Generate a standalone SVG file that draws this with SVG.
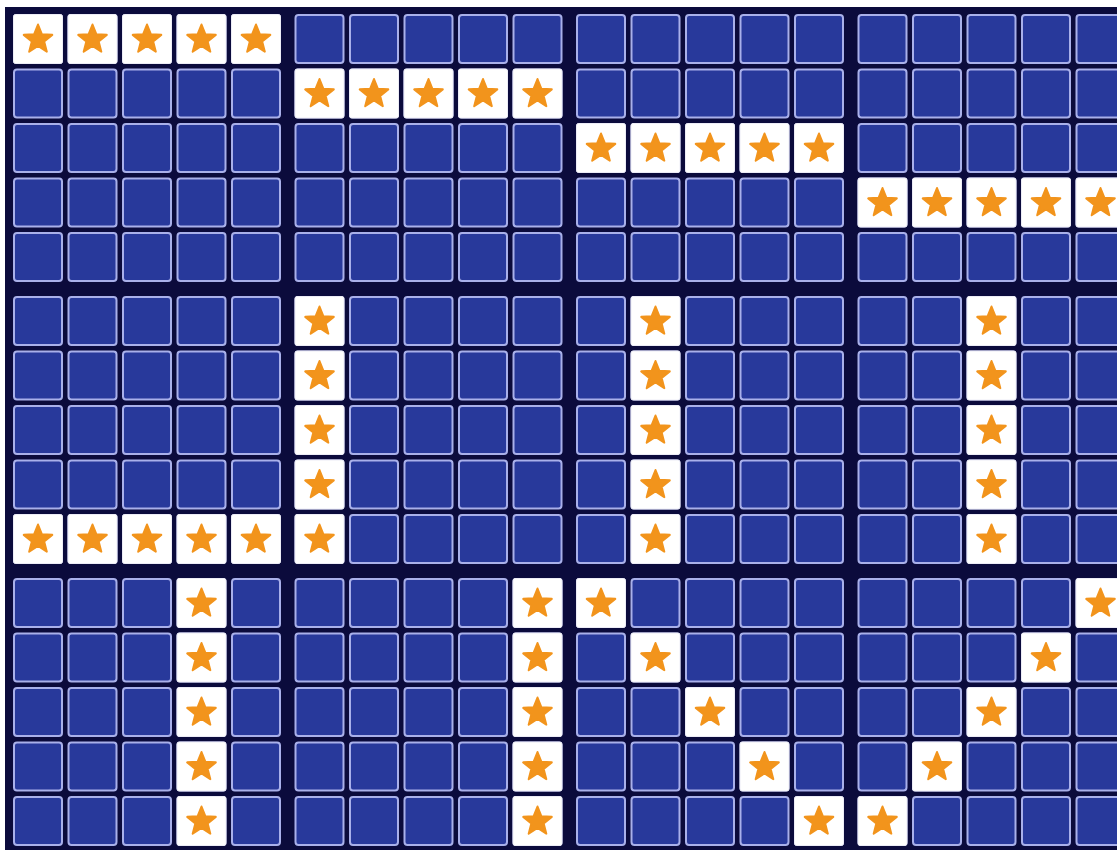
<svg xmlns="http://www.w3.org/2000/svg" xmlns:xlink="http://www.w3.org/1999/xlink" width="1117" height="852" viewBox="0 0 1117 852">
<style>
.bg{fill:#0b0b3c}
.bc{fill:#28399b;stroke:#a9b0ea;stroke-width:2}
.sc{fill:#ffffff;stroke:#ececf6;stroke-width:1}
.st{fill:#f2941c;stroke:#f2941c;stroke-width:2;stroke-linejoin:round}
</style>
<defs>
<rect id="b" x="1" y="1" width="48" height="48" rx="3" class="bc"/>
<g id="s"><rect x="0.5" y="0.5" width="49" height="49" rx="2" class="sc"/><path transform="translate(25,25.5)" class="st" d="M0,-15 L3.82,-5.26 L14.27,-4.64 L6.18,2.01 L8.82,12.14 L0,6.5 L-8.82,12.14 L-6.18,2.01 L-14.27,-4.64 L-3.82,-5.26 Z"/></g>
<g id="grid">
<use href="#b" x="0" y="0"/><use href="#b" x="54.5" y="0"/><use href="#b" x="109" y="0"/><use href="#b" x="163.5" y="0"/><use href="#b" x="218" y="0"/>
<use href="#b" x="0" y="54.5"/><use href="#b" x="54.5" y="54.5"/><use href="#b" x="109" y="54.5"/><use href="#b" x="163.5" y="54.5"/><use href="#b" x="218" y="54.5"/>
<use href="#b" x="0" y="109"/><use href="#b" x="54.5" y="109"/><use href="#b" x="109" y="109"/><use href="#b" x="163.5" y="109"/><use href="#b" x="218" y="109"/>
<use href="#b" x="0" y="163.5"/><use href="#b" x="54.5" y="163.5"/><use href="#b" x="109" y="163.5"/><use href="#b" x="163.5" y="163.5"/><use href="#b" x="218" y="163.5"/>
<use href="#b" x="0" y="218"/><use href="#b" x="54.5" y="218"/><use href="#b" x="109" y="218"/><use href="#b" x="163.5" y="218"/><use href="#b" x="218" y="218"/>
</g>
</defs>
<rect x="0" y="0" width="1117" height="852" fill="#ffffff"/>
<rect x="5" y="7" width="1112" height="843" class="bg"/>

<g id="panel-1-1" transform="translate(13,14)"><use href="#grid"/>
<use href="#s" x="0" y="0"/><use href="#s" x="54.5" y="0"/><use href="#s" x="109" y="0"/><use href="#s" x="163.5" y="0"/><use href="#s" x="218" y="0"/></g>
<g id="panel-1-2" transform="translate(294.5,14)"><use href="#grid"/>
<use href="#s" x="0" y="54.5"/><use href="#s" x="54.5" y="54.5"/><use href="#s" x="109" y="54.5"/><use href="#s" x="163.5" y="54.5"/><use href="#s" x="218" y="54.5"/></g>
<g id="panel-1-3" transform="translate(576,14)"><use href="#grid"/>
<use href="#s" x="0" y="109"/><use href="#s" x="54.5" y="109"/><use href="#s" x="109" y="109"/><use href="#s" x="163.5" y="109"/><use href="#s" x="218" y="109"/></g>
<g id="panel-1-4" transform="translate(857.5,14)"><use href="#grid"/>
<use href="#s" x="0" y="163.5"/><use href="#s" x="54.5" y="163.5"/><use href="#s" x="109" y="163.5"/><use href="#s" x="163.5" y="163.5"/><use href="#s" x="218" y="163.5"/></g>

<g id="panel-2-1" transform="translate(13,296)"><use href="#grid"/>
<use href="#s" x="0" y="218"/><use href="#s" x="54.5" y="218"/><use href="#s" x="109" y="218"/><use href="#s" x="163.5" y="218"/><use href="#s" x="218" y="218"/></g>
<g id="panel-2-2" transform="translate(294.5,296)"><use href="#grid"/>
<use href="#s" x="0" y="0"/><use href="#s" x="0" y="54.5"/><use href="#s" x="0" y="109"/><use href="#s" x="0" y="163.5"/><use href="#s" x="0" y="218"/></g>
<g id="panel-2-3" transform="translate(576,296)"><use href="#grid"/>
<use href="#s" x="54.5" y="0"/><use href="#s" x="54.5" y="54.5"/><use href="#s" x="54.5" y="109"/><use href="#s" x="54.5" y="163.5"/><use href="#s" x="54.5" y="218"/></g>
<g id="panel-2-4" transform="translate(857.5,296)"><use href="#grid"/>
<use href="#s" x="109" y="0"/><use href="#s" x="109" y="54.5"/><use href="#s" x="109" y="109"/><use href="#s" x="109" y="163.5"/><use href="#s" x="109" y="218"/></g>

<g id="panel-3-1" transform="translate(13,578)"><use href="#grid"/>
<use href="#s" x="163.5" y="0"/><use href="#s" x="163.5" y="54.5"/><use href="#s" x="163.5" y="109"/><use href="#s" x="163.5" y="163.5"/><use href="#s" x="163.5" y="218"/></g>
<g id="panel-3-2" transform="translate(294.5,578)"><use href="#grid"/>
<use href="#s" x="218" y="0"/><use href="#s" x="218" y="54.5"/><use href="#s" x="218" y="109"/><use href="#s" x="218" y="163.5"/><use href="#s" x="218" y="218"/></g>
<g id="panel-3-3" transform="translate(576,578)"><use href="#grid"/>
<use href="#s" x="0" y="0"/><use href="#s" x="54.5" y="54.5"/><use href="#s" x="109" y="109"/><use href="#s" x="163.5" y="163.5"/><use href="#s" x="218" y="218"/></g>
<g id="panel-3-4" transform="translate(857.5,578)"><use href="#grid"/>
<use href="#s" x="218" y="0"/><use href="#s" x="163.5" y="54.5"/><use href="#s" x="109" y="109"/><use href="#s" x="54.5" y="163.5"/><use href="#s" x="0" y="218"/></g>

<g id="connectors"></g>
</svg>
